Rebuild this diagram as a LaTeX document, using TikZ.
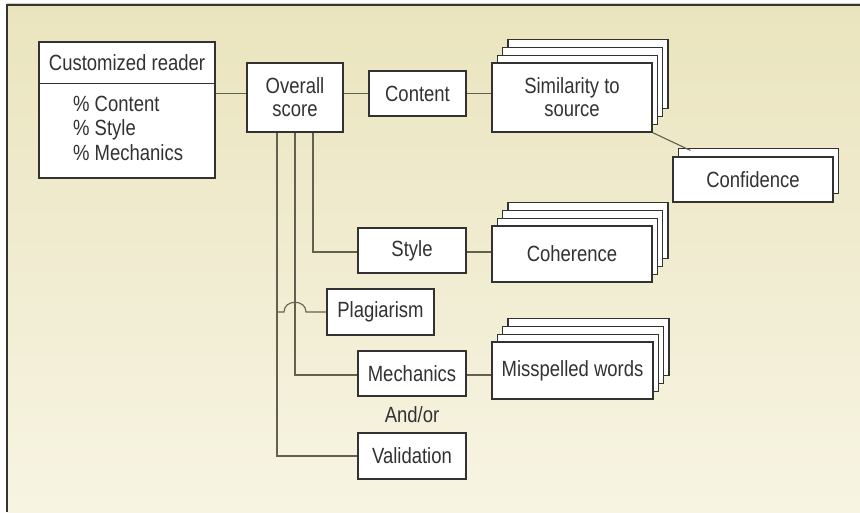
\documentclass[tikz,border=0pt]{standalone}
\usepackage{fontspec}
\setmainfont{Liberation Sans}[FakeStretch=0.84]
\usetikzlibrary{calc,shadows,positioning}
\definecolor{bgtop}{RGB}{234,228,190}
\definecolor{bgbot}{RGB}{247,244,227}
\definecolor{frameline}{RGB}{55,52,48}
\definecolor{boxline}{RGB}{50,50,50}
\definecolor{connline}{RGB}{100,96,80}
\tikzset{
  box/.style={draw=boxline, fill=white, line width=1.2pt, align=center,
              inner sep=0pt, text=boxline},
  layer/.style={copy shadow={fill=white, draw=boxline, line width=1.2pt,
                shadow xshift=#1*5.3pt, shadow yshift=#1*7.8pt}},
  stack/.style={box, layer=3, layer=2, layer=1},
  conn/.style={draw=connline, line width=1.1pt},
}
\begin{document}
\begin{tikzpicture}[x=1pt,y=-1pt,
    font=\fontsize{22}{23}\selectfont,
    every node/.append style={text=boxline}]
\useasboundingbox (0,0) rectangle (860,512);
% background
\shade[top color=bgtop, bottom color=bgbot] (7,5) rectangle (860,512);
\draw[gray!40, line width=0.8pt] (7,3.2) -- (860,3.2);
\draw[frameline, line width=1.8pt] (7,512) -- (7,5) -- (860,5);

% reader
\node[box, minimum width=176pt, minimum height=136pt] (reader) at (127,110) {};
\node (readtitle) at (127,63) {Customized reader};
\draw[boxline, line width=1.2pt] ([yshift=-42pt]reader.north west) -- ([yshift=-42pt]reader.north east);
\node[align=left, anchor=west, inner sep=0pt,
      font=\fontsize{22}{24.5}\selectfont] (readlist) at (73,128)
  {\% Content\\\% Style\\\% Mechanics};

% scores
\node[box, minimum width=96pt, minimum height=69pt] (overall) at (295,97.5) {Overall\\score};
\node[box, minimum width=97pt, minimum height=45pt] (content) at (417.5,93.5) {Content};
\node[box, minimum width=108pt, minimum height=45pt] (style) at (412,250.5) {Style};
\node[box, minimum width=107pt, minimum height=46pt] (plag) at (380.5,312) {Plagiarism};
\node[box, minimum width=108pt, minimum height=45pt] (mech) at (412,373.5) {Mechanics};
\node (andor) at (412,415) {And/or};
\node[box, minimum width=108pt, minimum height=46pt] (valid) at (412,456) {Validation};

% feature stacks
\node[stack, minimum width=160pt, minimum height=69pt] (sim) at (572,97.5) {Similarity to\\source};
\node[stack, minimum width=160pt, minimum height=56pt] (coh) at (572,254) {Coherence};
\node[stack, minimum width=161pt, minimum height=57pt] (miss) at (572.5,370.5) {Misspelled words};
\node[box, layer=1.05, minimum width=160pt, minimum height=45pt] (conf) at (753,179.5) {Confidence};

% connectors
\draw[conn] (content.west -| reader.east) -- (content.west -| overall.west);
\draw[conn] (content.west -| overall.east) -- (content.west);
\draw[conn] (content.east) -- (content.east -| sim.west);
\coordinate (confin) at ($(conf.north west)+(18pt,6pt)$);
\draw[conn] (sim.south east) -- (confin);
\draw[conn] ([xshift=18pt]overall.south) |- ([yshift=-1.5pt]style.west);
\draw[conn] ([yshift=-1.5pt]style.east) -- ([yshift=-1.5pt]style.east -| coh.west);
\draw[conn] (overall.south) |- ([yshift=-1.5pt]mech.west);
\draw[conn] ([yshift=-1.5pt]mech.east) -- ([yshift=-1.5pt]mech.east -| miss.west);
\draw[conn] ([xshift=-18pt]overall.south) |- (valid.west);
\coordinate (jump) at (overall.south |- plag.west);
\draw[conn] ([xshift=-18pt]jump) -- ([xshift=-11pt]jump)
  .. controls ([xshift=-11pt,yshift=13pt]jump) and ([xshift=11pt,yshift=13pt]jump)
  .. ([xshift=11pt]jump) -- (plag.west);
\end{tikzpicture}
\end{document}
